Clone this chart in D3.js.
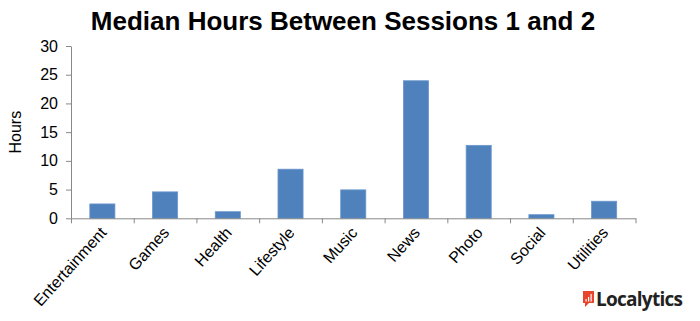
<!DOCTYPE html>
<html><head><meta charset="utf-8">
<script src="https://cdn.jsdelivr.net/npm/d3@7"></script>
<style>body{margin:0;background:#fff}svg{display:block}</style>
</head><body>
<svg id="c" width="700" height="321"></svg>
<script>
const categories = ["Entertainment","Games","Health","Lifestyle","Music","News","Photo","Social","Utilities"];
const values = [2.5, 4.6, 1.15, 8.55, 4.95, 23.95, 12.7, 0.63, 2.97];
const yTicks = [0, 5, 10, 15, 20, 25, 30];
const title = "Median Hours Between Sessions 1 and 2";
const yLabel = "Hours";

(function(){
const svg = d3.select("#c");
const pLeft = 71, pRight = 635.5, pTop = 46, pBottom = 218.3;
const x = d3.scaleBand().domain(categories).range([pLeft, pRight]).paddingInner(0.6).paddingOuter(0.3);
const y = d3.scaleLinear().domain([0, 30]).range([pBottom, pTop]);
const font = "'Liberation Sans', Arial, sans-serif";

svg.append("text").attr("x", 343).attr("y", 30).attr("text-anchor", "middle")
  .attr("font-family", font).attr("font-weight", "bold").attr("font-size", 26).attr("fill", "#000").text(title);

// bars
svg.append("g").selectAll("rect").data(categories).join("rect")
  .attr("x", d => x(d)).attr("width", x.bandwidth())
  .attr("y", (d, i) => y(values[i])).attr("height", (d, i) => y(0) - y(values[i]))
  .attr("fill", "#4f81bd").attr("stroke", "#6a96cc").attr("stroke-width", 0.8);

// y axis
const ya = svg.append("g").attr("transform", `translate(${pLeft},0)`)
  .call(d3.axisLeft(y).tickValues(yTicks).tickSize(5).tickPadding(8).tickSizeOuter(0));
ya.select(".domain").attr("stroke", "#888");
ya.selectAll(".tick line").attr("stroke", "#888");
ya.selectAll("text").attr("font-family", font).attr("font-size", 16).attr("fill", "#000");

// x axis
const xa = svg.append("g").attr("transform", `translate(0,${pBottom})`)
  .call(d3.axisBottom(d3.scaleLinear().domain([0, categories.length]).range([pLeft, pRight]))
    .tickValues(d3.range(categories.length + 1)).tickSize(5).tickFormat("").tickSizeOuter(0));
xa.select(".domain").attr("stroke", "#888");
xa.selectAll(".tick line").attr("stroke", "#888");

svg.append("g").selectAll("text").data(categories).join("text")
  .attr("transform", d => `translate(${x(d) + x.bandwidth()/2 + 5},${pBottom + 15}) rotate(-48)`)
  .attr("text-anchor", "end").attr("font-family", font).attr("font-size", 16).attr("fill", "#000")
  .text(d => d);

svg.append("text").attr("transform", `translate(21,${(pTop+pBottom)/2}) rotate(-90)`)
  .attr("text-anchor", "middle").attr("font-family", font).attr("font-size", 16).attr("fill", "#000").text(yLabel);

// logo
const lg = svg.append("g").attr("transform", "translate(583,291)");
lg.append("rect").attr("width", 11).attr("height", 12).attr("fill", "#e8452c");
lg.append("path").attr("d", "M2,12 L2,16 L6,12 Z").attr("fill", "#e8452c");
[[2.5,8,1.2,2.5],[5,6,1.2,4.5],[7.5,3,1.2,7.5]].forEach(b => lg.append("rect").attr("x", b[0]).attr("y", b[1]).attr("width", b[2]).attr("height", b[3]).attr("fill", "#fff"));
svg.append("text").attr("x", 596).attr("y", 306).attr("font-family", "'Open Sans', 'Liberation Sans', sans-serif")
  .attr("font-weight", "bold").attr("font-size", 19).attr("fill", "#222").attr("textLength", 87).text("Localytics");
})();
</script>
</body></html>
